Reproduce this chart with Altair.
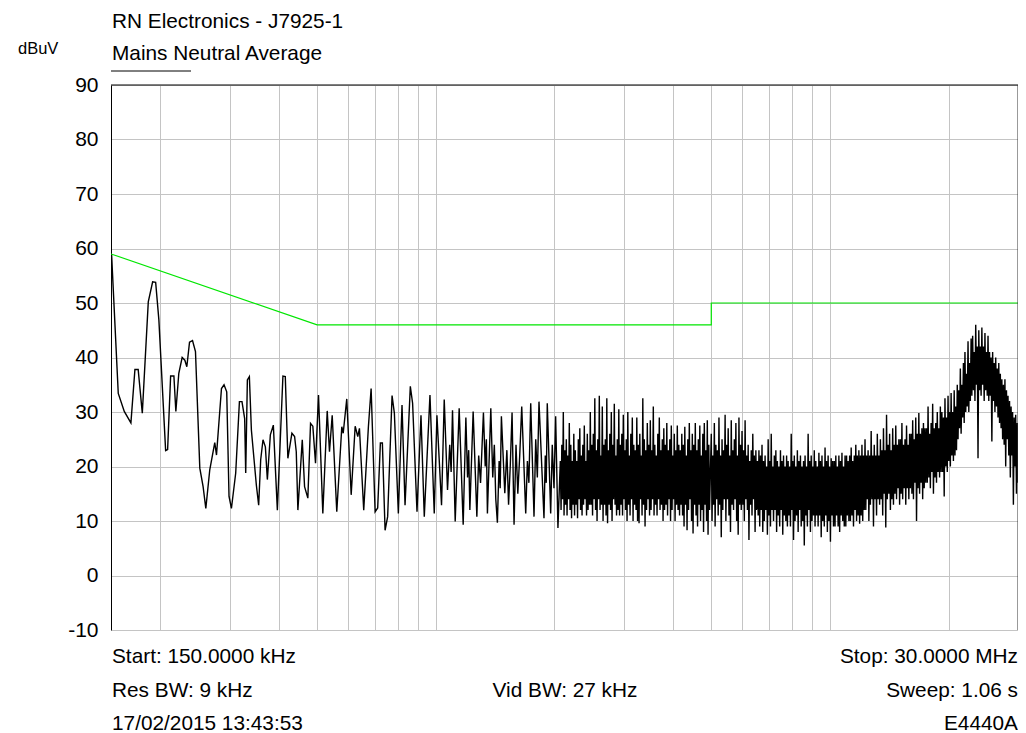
import altair as alt
import numpy as np
import pandas as pd

# ---------------- data ----------------
# Sparse, resolvable part of the measured trace (frequency in MHz, level in dBuV)
sparse_freq = [
    0.1505, 0.1565, 0.1621, 0.1685, 0.1725, 0.1758, 0.1801, 0.1865, 0.1913, 0.1947,
    0.1984, 0.2064, 0.2088, 0.2125, 0.2166, 0.2191, 0.2229, 0.2273, 0.2309, 0.2336,
    0.2373, 0.2415, 0.2457, 0.2520, 0.2569, 0.2610, 0.2671, 0.2750, 0.2778, 0.2860,
    0.2903, 0.2949, 0.2989, 0.3031, 0.3108, 0.3176, 0.3224, 0.3275, 0.3295, 0.3327,
    0.3366, 0.3406, 0.3506, 0.3554, 0.3596, 0.3645, 0.3696, 0.3739, 0.3805, 0.3872,
    0.3964, 0.4095, 0.4152, 0.4215, 0.4316, 0.4384, 0.4427, 0.4469, 0.4585, 0.4647,
    0.4737, 0.4812, 0.4877, 0.4954, 0.5041, 0.5170, 0.5304, 0.5375, 0.5461, 0.5609,
    0.5776, 0.5823, 0.5946, 0.6101, 0.6245, 0.6340, 0.6403, 0.6565, 0.6747, 0.6855,
    0.7017, 0.7123, 0.7236, 0.7321, 0.7437, 0.7550, 0.7747, 0.7852, 0.8037, 0.8211,
    0.8357, 0.8619, 0.8735, 0.8962, 0.9173, 0.9351, 0.9667, 0.9912, 1.0069, 1.0343,
    1.0507, 1.0711, 1.0850, 1.0940, 1.1028, 1.1202, 1.1466, 1.1737, 1.1923, 1.2040,
    1.2120, 1.2204, 1.2441, 1.2713, 1.2850, 1.2990, 1.3211, 1.3350, 1.3440, 1.3522,
    1.3793, 1.3950, 1.4080, 1.4200, 1.4333, 1.4480, 1.4570, 1.4673, 1.4967, 1.5150,
    1.5300, 1.5450, 1.5616, 1.5799, 1.5980, 1.6150, 1.6330, 1.6524, 1.6913, 1.7080,
    1.7230, 1.7414, 1.7752, 1.7930, 1.8100, 1.8276, 1.8817, 1.8960, 1.9070, 1.9182,
    1.9567, 1.9750, 1.9950, 2.0144, 2.0416,
]
sparse_level = [
    59, 33.4, 30.1, 28.0, 37.8, 37.8, 29.8, 50.2, 53.9, 53.8,
    46.9, 22.9, 23.1, 36.6, 36.6, 30.1, 37.1, 40.0, 39.5, 38.3,
    42.8, 43.1, 41.1, 19.7, 16.3, 12.3, 19.4, 24.4, 22.1, 34.3,
    35.0, 33.7, 14.5, 12.3, 18.8, 31.9, 31.9, 28.8, 18.8, 35.9,
    36.5, 26.7, 16.6, 12.9, 21.2, 24.9, 23.6, 17.6, 25.8, 27.6,
    12.0, 36.6, 36.5, 21.5, 26.1, 25.5, 22.7, 12.0, 24.9, 16.3,
    14.2, 27.9, 27.4, 20.6, 33.1, 11.4, 30.2, 22.7, 29.4, 11.7,
    27.3, 26.1, 32.4, 14.8, 27.4, 25.5, 27.0, 12.0, 27.3, 34.3,
    11.7, 12.4, 24.3, 24.3, 8.3, 10.8, 33.0, 29.8, 11.4, 31.3,
    12.9, 34.7, 31.6, 11.7, 29.4, 10.8, 33.1, 11.4, 29.4, 12.9,
    32.3, 15.7, 24, 19, 30.3, 9.9, 30.7, 9.3, 29.0, 18,
    23, 12.0, 30.1, 10.8, 22, 17, 29.9, 20, 25, 11.4,
    30.7, 18, 24, 14, 9.7, 21, 16, 29.2, 15.1, 23,
    13, 20, 29.9, 9.3, 24, 15, 22, 31.0, 11.4, 21,
    17, 31.6, 10.8, 25, 18, 31.9, 10.5, 22, 17, 31.6,
    11.4, 24, 16, 29.2, 8.7,
]

# Dense part of the sweep, 2.07 - 4.95 MHz (levels read along the sweep, dBuV)
dense_b_range = (2.07, 4.95)
dense_b_level = [
    21, 12, 24, 14, 30, 11, 23, 13, 25, 11, 22, 14, 28, 12, 24, 10.5, 21, 13, 26, 11,
    23, 13, 21, 10.5, 25, 14, 27, 12, 22, 11, 24, 13, 27.5, 14, 21, 11, 26, 12, 23, 13,
    30, 13, 24, 11, 26, 14, 32.5, 12, 23, 10, 25, 14, 33, 12, 22, 13, 31, 10, 24, 13,
    25, 11, 32.5, 9.6, 23, 13, 26, 12, 30, 10, 24, 14, 31.5, 13, 22, 11, 25, 12, 30.5, 11,
    24, 13, 26, 11, 29.5, 14, 23, 12, 25, 10, 30, 13, 22, 11, 26, 14, 29, 10, 24, 13,
    23, 12, 29, 10, 24, 9.6, 26, 14, 22, 11, 32.5, 13, 25, 9, 23, 12, 28, 14, 24, 11,
    28.5, 12, 23, 14, 31, 11, 24, 13, 22, 11, 26, 14, 29, 12, 23, 13, 25, 10, 27, 12,
    24, 13, 28, 11, 23, 14, 25, 10, 27.5, 12, 22, 14, 26, 10, 23, 13, 27.5, 12, 24, 11,
    23, 13, 26, 11, 24, 9, 27.3, 13, 22, 8.3, 25, 12, 28, 14, 23, 10, 26, 7.7, 24, 13,
    28, 11, 23, 9, 25, 13, 27.5, 10, 22, 12, 26, 8, 28, 13, 23, 10, 28.5, 7.5, 24, 12,
]

# Dense part of the sweep, 5 - 30 MHz
dense_c_range = (5.0, 30.0)
dense_c_level = [
    26, 10, 22, 13, 28, 9, 24, 14, 23, 11, 29, 13, 22, 7, 25, 12, 23, 14, 29.5, 10,
    24, 14, 27, 11, 22, 8, 28.5, 13, 23, 12, 25, 14, 28, 10, 22, 7.5, 29, 13, 24, 12,
    26.5, 13, 23, 10, 28.5, 14, 22, 12, 24, 6.5, 21, 13, 23, 11, 26, 14, 22, 8, 23, 12,
    21, 11, 23, 9, 22, 12, 24, 8, 21, 10, 22, 12, 20, 7.5, 25, 11, 21, 9, 26, 12,
    20, 10, 22, 12, 23, 8, 21, 11, 20, 9, 23, 12, 21, 7.5, 22, 11, 20, 10, 22, 9,
    21, 11, 20, 9, 26, 12, 21, 6.5, 22, 10, 20, 11, 23, 8, 21, 12, 22, 9, 20, 10,
    21, 5.5, 22, 11, 20, 9, 26, 12, 21, 8, 22, 10, 20, 11, 23, 9, 21, 11, 20, 9,
    22.5, 11, 21, 7, 22, 10, 20, 9, 23.5, 11, 21, 8, 22, 10, 20, 6.2, 21.5, 11, 21, 9,
    21, 9, 22, 11, 20, 9, 22, 8, 21, 11, 22.5, 10, 20, 9, 22, 9, 22, 11, 21, 10,
    22, 10, 23.5, 11, 21, 9, 22, 12, 24, 10, 22, 11, 23, 9.5, 22, 11, 24, 10, 22, 12,
    25, 12, 22, 14, 23, 10, 22, 13, 26.5, 14, 22, 9, 24, 14, 22, 11, 26, 14, 22, 13,
    25, 14, 23, 11, 27, 15, 23, 8.8, 29.5, 14, 24, 15, 26, 12, 23, 14, 27, 13, 24, 15,
    27.5, 14, 24, 16, 25, 13, 25, 15, 28, 14, 24, 16, 25, 13, 27.5, 16, 24, 14, 26, 16,
    26, 15, 28.5, 14, 25, 17, 29, 10, 26, 16, 29.8, 15, 26, 17, 27, 14, 28, 16, 27, 17,
    27, 17, 31, 18, 26, 16, 28, 19, 31.5, 15, 27, 18, 28, 17, 30, 19, 27, 18, 31, 19,
    30, 19, 29, 14.5, 32.5, 20, 29, 19, 33, 21, 30, 20, 33.5, 22, 30, 21, 34, 22, 31, 23,
    35, 25, 34, 27, 38, 26, 35, 29, 39, 28, 41, 30, 37, 31, 43, 30, 39, 32, 43.5, 33,
    44, 34, 41, 32, 46, 35, 42, 21.5, 45, 34, 42, 33, 45.5, 35, 42, 32, 44.5, 34, 41, 33,
    44, 32, 41, 33, 40, 24.6, 41, 32, 39, 30, 40, 31, 38, 29, 39, 28, 37, 27, 36, 25,
    35, 24, 36, 20, 34, 25, 33, 22, 32, 18, 31, 22, 30, 13, 29, 20, 29.5, 15, 28, 17,
]

# Limit line (green)
limit_freq = [0.15, 0.5, 5.0, 5.0, 30.0]
limit_level = [59, 46, 46, 50, 50]

# Axis grid
grid_freq = [0.2, 0.3, 0.4, 0.5, 0.6, 0.7, 0.8, 0.9, 1, 2, 3, 4, 5, 6, 7, 8, 9, 10, 20]
y_ticks = [-10, 0, 10, 20, 30, 40, 50, 60, 70, 80, 90]

# Texts
title_line = "RN Electronics - J7925-1"
subtitle_line = "Mains Neutral Average"
unit_label = "dBuV"
footer_left = ["Start: 150.0000 kHz", "Res BW: 9 kHz", "17/02/2015 13:43:53"]
footer_center = "Vid BW: 27 kHz"
footer_right = ["Stop: 30.0000 MHz", "Sweep: 1.06 s", "E4440A"]

# ---------------- build ----------------
freq = (
    list(sparse_freq)
    + [float(v) for v in np.geomspace(dense_b_range[0], dense_b_range[1], len(dense_b_level))]
    + [float(v) for v in np.geomspace(dense_c_range[0], dense_c_range[1], len(dense_c_level))]
)
level = list(sparse_level) + list(dense_b_level) + list(dense_c_level)
trace_df = pd.DataFrame({"freq": freq, "level": level, "idx": list(range(len(freq)))})
limit_df = pd.DataFrame({"freq": limit_freq, "level": limit_level, "idx": list(range(len(limit_freq)))})

W, H = 907, 545
FONT = "Liberation Sans"
FS = 20.8

x_enc = alt.X(
    "freq:Q",
    scale=alt.Scale(type="log", domain=[0.15, 30], nice=False),
    axis=alt.Axis(values=grid_freq, labels=False, ticks=False, domain=False,
                  grid=True, gridColor="#c4c4c4", gridWidth=1, title=None),
)
y_enc = alt.Y(
    "level:Q",
    scale=alt.Scale(domain=[-10, 90], nice=False, zero=False),
    axis=alt.Axis(values=y_ticks, ticks=False, domain=True, domainColor="black",
                  domainWidth=1, grid=True, gridColor="#c4c4c4", gridWidth=1,
                  labelFont=FONT, labelFontSize=21, labelColor="black",
                  labelPadding=13, labelExpr="'' + datum.value", title=None),
)

trace = alt.Chart(trace_df).mark_line(color="black", strokeWidth=1.4, clip=True).encode(
    x=x_enc, y=y_enc, order="idx:Q"
)
limit = alt.Chart(limit_df).mark_line(color="#00e600", strokeWidth=1.2, clip=True).encode(
    x="freq:Q", y="level:Q", order="idx:Q"
)

one = pd.DataFrame({"a": [0]})
top_rule = alt.Chart(one).mark_rule(color="black", strokeWidth=1).encode(
    x=alt.value(0), x2=alt.value(W), y=alt.value(0)
)
right_rule = alt.Chart(one).mark_rule(color="#333333", strokeWidth=1).encode(
    x=alt.value(W), y=alt.value(0), y2=alt.value(H)
)
underline = alt.Chart(one).mark_rule(color="black", strokeWidth=1).encode(
    x=alt.value(0), x2=alt.value(80), y=alt.value(-14)
)


def label(text, x, y, align="left", size=FS):
    return alt.Chart(pd.DataFrame({"t": [text]})).mark_text(
        align=align, baseline="alphabetic", font=FONT, fontSize=size, color="black"
    ).encode(x=alt.value(x), y=alt.value(y), text="t:N")


texts = [
    label(title_line, 1, -57.5),
    label(subtitle_line, 1, -25),
    label(unit_label, -93, -31.5, size=16.5),
    label(footer_left[0], 1, 578),
    label(footer_left[1], 1, 612),
    label(footer_left[2], 1, 645),
    label(footer_center, 454, 612, "center"),
    label(footer_right[0], W, 578, "right"),
    label(footer_right[1], W, 612, "right"),
    label(footer_right[2], W, 645, "right"),
]

chart = (
    alt.layer(trace, limit, top_rule, right_rule, underline, *texts)
    .properties(
        width=W,
        height=H,
        padding={"left": 103, "top": 77, "right": 0, "bottom": 103},
        autosize=alt.AutoSizeParams(type="none"),
        background="white",
    )
    .configure_view(stroke=None)
)

chart.save("out.html", embed_options={"renderer": "svg", "actions": False})
